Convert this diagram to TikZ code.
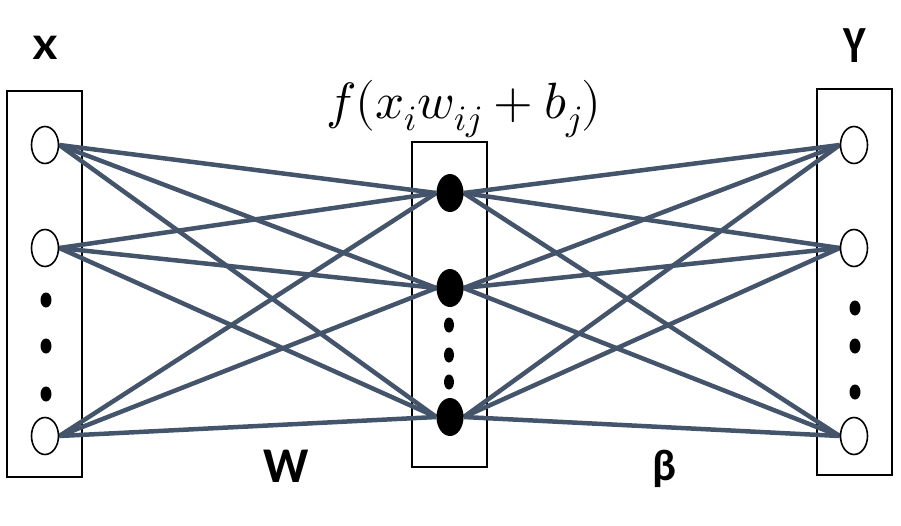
\documentclass[tikz,border=0pt]{standalone}
\usepackage{fontspec}
\usepackage{unicode-math}
\setmathfont{Latin Modern Math}
\setsansfont{Carlito}
\usetikzlibrary{shapes.geometric}
\pgfdeclarelayer{bg}
\pgfsetlayers{bg,main}
\definecolor{edgecol}{HTML}{44546A}
\tikzset{
  layerbox/.style={draw=black, line width=2pt},
  opennode/.style={ellipse, draw=black, line width=1.6pt, fill=white, minimum width=27pt, minimum height=37pt, inner sep=0pt},
  fullnode/.style={ellipse, fill=black, minimum width=27pt, minimum height=38pt, inner sep=0pt},
  vdot/.style={ellipse, fill=black, minimum width=11pt, minimum height=15pt, inner sep=0pt},
  mdot/.style={ellipse, fill=black, minimum width=10pt, minimum height=15pt, inner sep=0pt},
  wire/.style={draw=edgecol, line width=4.5pt},
  biglabel/.style={font=\sffamily\bfseries, inner sep=0pt},
}
\begin{document}
\begin{tikzpicture}[x=1pt, y=-1pt]
\useasboundingbox (0,0) rectangle (901,525);
% nodes
\node[opennode] (i1) at (45,145) {};
\node[opennode] (i2) at (45,248) {};
\node[opennode] (i3) at (45,436) {};
\node[vdot] (ld1) at (46,300) {};
\node[vdot] (ld2) at (46,346) {};
\node[vdot] (ld3) at (46,394) {};
\node[fullnode] (h1) at (450,193) {};
\node[fullnode] (h2) at (450,288) {};
\node[fullnode] (h3) at (450,417) {};
\node[mdot] (md1) at (449,325) {};
\node[mdot] (md2) at (449,355) {};
\node[mdot] (md3) at (449,382) {};
\node[opennode] (o1) at (854,145) {};
\node[opennode] (o2) at (854,248) {};
\node[opennode] (o3) at (854,436) {};
\node[vdot] (rd1) at (855,308) {};
\node[vdot] (rd2) at (855,346) {};
\node[vdot] (rd3) at (855,392) {};
% labels
\node[biglabel, font=\sffamily\bfseries\fontsize{36}{40}\selectfont, xscale=1.25] (lx) at (45,48) {X};
\node[biglabel, font=\sffamily\bfseries\fontsize{36}{40}\selectfont, xscale=1.2, yscale=1.45] (ly) at (855,46) {Y};
\node[biglabel, font=\sffamily\bfseries\fontsize{50}{56}\selectfont] (lw) at (286,466) {W};
\node[biglabel, font=\sffamily\bfseries\fontsize{44}{50}\selectfont] (lb) at (664,469) {β};
\node[inner sep=0pt, anchor=base, font=\fontsize{51}{56}\selectfont] (lf) at (464,118) {$f(x_i w_{ij} + b_j)$};
% boxes and wires
\begin{pgfonlayer}{bg}
\draw[layerbox] (7,91) rectangle (82,477);
\draw[layerbox] (412,142) rectangle (487,467);
\draw[layerbox] (817,89) rectangle (892,475);
\foreach \a in {i1,i2,i3}{
  \foreach \b in {h1,h2,h3}{
    \draw[wire] (\a.east) -- (\b.west);
  }
}
\foreach \a in {h1,h2,h3}{
  \foreach \b in {o1,o2,o3}{
    \draw[wire] (\a.east) -- (\b.west);
  }
}
\end{pgfonlayer}
\end{tikzpicture}
\end{document}
